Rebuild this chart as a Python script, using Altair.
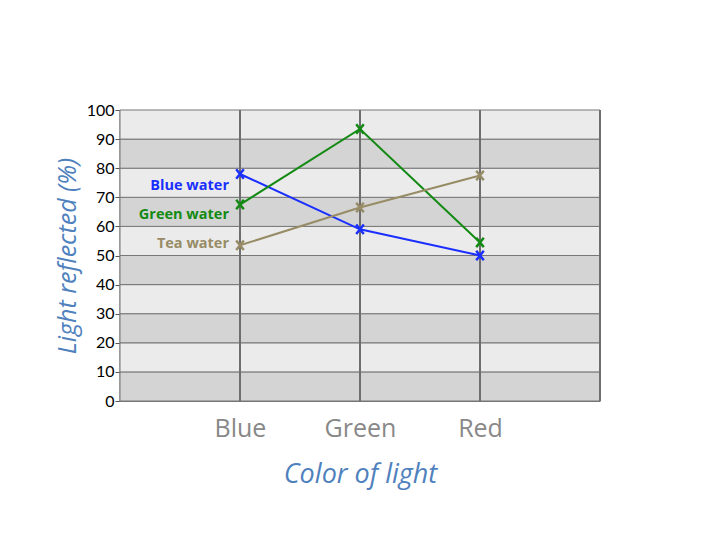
import altair as alt
import pandas as pd

categories = ["Blue", "Green", "Red"]
series = ["Blue water", "Green water", "Tea water"]
blue_water = [78, 59, 50]
green_water = [67.5, 93.5, 54.5]
tea_water = [53.5, 66.5, 77.5]
series_colors = ["#1a2fff", "#138a13", "#978c66"]
label_values = [74, 64, 54]
y_ticks = [0, 10, 20, 30, 40, 50, 60, 70, 80, 90, 100]

rows = []
for s, vals in zip(series, [blue_water, green_water, tea_water]):
    for i, v in enumerate(vals):
        rows.append({"series": s, "xi": i + 1, "cat": categories[i], "value": v})
df = pd.DataFrame(rows)

band_lo = list(range(0, 100, 10))
bands = pd.DataFrame({"lo": band_lo, "hi": [b + 10 for b in band_lo],
                      "shade": ["dark" if (b // 10) % 2 == 0 else "light" for b in band_lo]})
vgrid = pd.DataFrame({"xi": [1, 2, 3, 4]})
labels_df = pd.DataFrame({"series": series, "value": label_values, "xi": [1, 1, 1]})

xscale = alt.Scale(domain=[0, 4], nice=False, zero=False)
yscale = alt.Scale(domain=[0, 100], nice=False)
cscale = alt.Scale(domain=series, range=series_colors)

yaxis = alt.Axis(values=y_ticks, title="Light reflected (%)",
                 labelFont="Lato", labelFontSize=16, labelColor="#000",
                 labelOverlap=False, labelPadding=1,
                 tickColor="#555", tickSize=5, domainColor="#777", domainWidth=2,
                 titleFont="Open Sans", titleFontSize=25, titleFontStyle="italic",
                 titleFontWeight="normal", titleColor="#4f81bd", titlePadding=6,
                 grid=False)
xaxis = alt.Axis(values=[1, 2, 3],
                 labelExpr="datum.value == 1 ? 'Blue' : datum.value == 2 ? 'Green' : 'Red'",
                 labelFont="Open Sans", labelFontSize=25, labelColor="#888",
                 labelPadding=15, ticks=False, domainColor="#777",
                 title="Color of light", titleFont="Open Sans", titleFontSize=27,
                 titleFontStyle="italic", titleFontWeight="normal", titleColor="#4f81bd",
                 titlePadding=20, grid=False)

band_layer = alt.Chart(bands).mark_rect(stroke="#777", strokeWidth=1).encode(
    x=alt.value(0), x2=alt.value(480),
    y=alt.Y("lo:Q", scale=yscale, axis=yaxis),
    y2="hi:Q",
    color=alt.Color("shade:N", scale=alt.Scale(domain=["dark", "light"], range=["#d4d4d4", "#ebebeb"]), legend=None),
)

vgrid_layer = alt.Chart(vgrid).mark_rule(color="#6e6e6e", strokeWidth=2).encode(
    x=alt.X("xi:Q", scale=xscale, axis=xaxis),
    y=alt.value(0), y2=alt.value(291),
)

lines = alt.Chart(df).mark_line(strokeWidth=2).encode(
    x=alt.X("xi:Q", scale=xscale, axis=xaxis),
    y=alt.Y("value:Q", scale=yscale, axis=yaxis),
    color=alt.Color("series:N", scale=cscale, legend=None),
    detail="series:N",
)
points = alt.Chart(df).mark_point(shape="M-0.8,-1L0.8,1M-0.8,1L0.8,-1", size=90,
                                  filled=False, strokeWidth=2.5, opacity=1).encode(
    x=alt.X("xi:Q", scale=xscale, axis=xaxis),
    y=alt.Y("value:Q", scale=yscale, axis=yaxis),
    color=alt.Color("series:N", scale=cscale, legend=None),
)
texts = alt.Chart(labels_df).mark_text(align="right", baseline="middle", dx=-11,
                                       font="Open Sans", fontSize=14.5, fontWeight="bold").encode(
    x=alt.X("xi:Q", scale=xscale, axis=xaxis),
    y=alt.Y("value:Q", scale=yscale, axis=yaxis),
    text="series:N",
    color=alt.Color("series:N", scale=cscale, legend=None),
)

chart = alt.layer(band_layer, vgrid_layer, lines, points, texts).properties(
    width=480, height=291,
    autosize=alt.AutoSizeParams(type="none"),
    padding={"left": 112, "top": 102, "right": 112, "bottom": 130},
).configure_view(stroke=None).resolve_scale(color="independent")

chart.save("out.html", embed_options={"renderer": "svg", "actions": False})
